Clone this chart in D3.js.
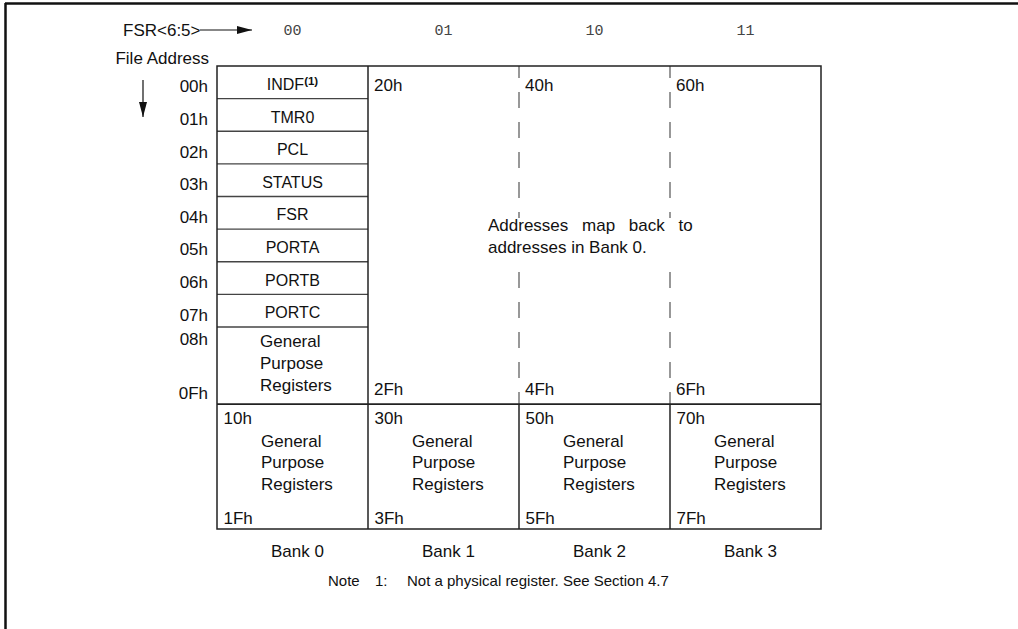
<!DOCTYPE html>
<html><head><meta charset="utf-8">
<script src="https://cdn.jsdelivr.net/npm/d3@7/dist/d3.min.js"></script>
<style>
html,body{margin:0;padding:0;background:#fff;}
svg{display:block;}
text{font-family:"Liberation Sans",Arial,sans-serif;fill:#111;}
</style></head>
<body>
<svg id="chart" width="1018" height="629"></svg>
<script>
// ---- data ----
const fsrBits = ["00", "01", "10", "11"];
const banks = ["Bank 0", "Bank 1", "Bank 2", "Bank 3"];
const sfrAddr = ["00h", "01h", "02h", "03h", "04h", "05h", "06h", "07h"];
const sfrNames = ["INDF", "TMR0", "PCL", "STATUS", "FSR", "PORTA", "PORTB", "PORTC"];
const gprAddr = ["08h", "0Fh"];
const upperStart = ["20h", "40h", "60h"];
const upperEnd = ["2Fh", "4Fh", "6Fh"];
const lowerStart = ["10h", "30h", "50h", "70h"];
const lowerEnd = ["1Fh", "3Fh", "5Fh", "7Fh"];
const gprLines = ["General", "Purpose", "Registers"];
const mirrorNote = ["Addresses map back to", "addresses in Bank 0."];
const footnote = ["Note", "1:", "Not a physical register. See Section 4.7"];
const headerLabels = ["FSR<6:5>", "File Address"];
// row units: 8 SFR rows, upper GPR block, lower block
const rowUnits = [8, 2.36, 3.83];

// ---- scales ----
const svg = d3.select("#chart");
const x = d3.scaleBand().domain(banks).range([217, 821]);
const bw = x.bandwidth();
const total = d3.sum(rowUnits);
const y = d3.scaleLinear().domain([0, total]).range([66, 529]);
const ySfrEnd = rowUnits[0];
const yMid = rowUnits[0] + rowUnits[1];
const FS = 17;

// ---- page frame ----
svg.append("line").attr("x1", 5).attr("x2", 1018).attr("y1", 3.5).attr("y2", 3.5)
  .attr("stroke", "#111").attr("stroke-width", 2.5);
svg.append("line").attr("x1", 5.5).attr("x2", 5.5).attr("y1", 3).attr("y2", 629)
  .attr("stroke", "#111").attr("stroke-width", 2.5);

// ---- header ----
const defs = svg.append("defs");
defs.append("marker").attr("id", "ah").attr("viewBox", "0 0 15 8").attr("refX", 15).attr("refY", 4)
  .attr("markerWidth", 15).attr("markerHeight", 8).attr("markerUnits", "userSpaceOnUse").attr("orient", "auto")
  .append("path").attr("d", "M0,0 L15,4 L0,8 Z").attr("fill", "#111");

svg.append("text").text(headerLabels[0]).attr("x", 123).attr("y", 30).attr("dy", "0.35em")
  .attr("font-size", FS);
svg.append("line").attr("x1", 200).attr("x2", 252).attr("y1", 30).attr("y2", 30)
  .attr("stroke", "#111").attr("stroke-width", 1.2).attr("marker-end", "url(#ah)");

svg.selectAll("text.bits").data(fsrBits).join("text").attr("class", "bits")
  .text(d => d)
  .attr("x", (d, i) => x(banks[i]) + bw / 2).attr("y", 30).attr("dy", "0.35em")
  .attr("text-anchor", "middle")
  .style("font-family", "'Liberation Mono','Courier New',monospace")
  .style("fill", "#444").attr("font-size", 15);

svg.append("text").text(headerLabels[1]).attr("x", 209).attr("y", 58).attr("dy", "0.35em")
  .attr("text-anchor", "end").attr("font-size", FS);
svg.append("line").attr("x1", 143).attr("x2", 143).attr("y1", 80).attr("y2", 117)
  .attr("stroke", "#111").attr("stroke-width", 1.2).attr("marker-end", "url(#ah)");

// ---- table lines ----
const g = svg.append("g");
const solid = (x1, y1, x2, y2, col = "#222", w = 1.5) =>
  g.append("line").attr("x1", x1).attr("y1", y1).attr("x2", x2).attr("y2", y2)
    .attr("stroke", col).attr("stroke-width", w);

// SFR row separators in Bank 0
g.selectAll("line.row").data(d3.range(1, ySfrEnd + 1)).join("line").attr("class", "row")
  .attr("x1", x(banks[0])).attr("x2", x(banks[0]) + bw)
  .attr("y1", d => y(d)).attr("y2", d => y(d))
  .attr("stroke", "#444").attr("stroke-width", 1.4);

// dashed separators between mirrored banks (upper section)
g.selectAll("line.dash").data(banks.slice(2)).join("line").attr("class", "dash")
  .attr("x1", d => x(d)).attr("x2", d => x(d))
  .attr("y1", y(0)).attr("y2", y(yMid))
  .attr("stroke", "#777").attr("stroke-width", 1.5)
  .attr("stroke-dasharray", "16 14").attr("stroke-dashoffset", 4);

// solid vertical separators
solid(x(banks[1]), y(0), x(banks[1]), y(total));
banks.slice(2).forEach(b => solid(x(b), y(yMid), x(b), y(total)));
// outer border
g.append("rect").attr("x", x(banks[0])).attr("y", y(0))
  .attr("width", x(banks[3]) + bw - x(banks[0])).attr("height", y(total) - y(0))
  .attr("fill", "none").attr("stroke", "#222").attr("stroke-width", 1.5);
// middle horizontal line
solid(x(banks[0]), y(yMid), x(banks[3]) + bw, y(yMid), "#222", 1.8);

// ---- address labels ----
svg.selectAll("text.addr").data(sfrAddr).join("text").attr("class", "addr")
  .text(d => d).attr("x", 208).attr("y", (d, i) => y(i + 0.5) + 4).attr("dy", "0.35em")
  .attr("text-anchor", "end").attr("font-size", FS);
svg.append("text").text(gprAddr[0]).attr("x", 208).attr("y", y(ySfrEnd) + 12).attr("dy", "0.35em")
  .attr("text-anchor", "end").attr("font-size", FS);
svg.append("text").text(gprAddr[1]).attr("x", 208).attr("y", y(yMid) - 11).attr("dy", "0.35em")
  .attr("text-anchor", "end").attr("font-size", FS);

// ---- SFR names ----
const names = svg.selectAll("text.sfr").data(sfrNames).join("text").attr("class", "sfr")
  .attr("x", x(banks[0]) + bw / 2).attr("y", (d, i) => y(i + 0.5) + 2).attr("dy", "0.35em")
  .attr("text-anchor", "middle").attr("font-size", 16);
names.append("tspan").text(d => d);
names.filter((d, i) => i === 0).append("tspan").text("(1)")
  .attr("font-size", 11.5).attr("font-weight", "bold").attr("dy", "-0.45em");

// GPR text, bank 0 upper
svg.selectAll("text.gpru").data(gprLines).join("text").attr("class", "gpru")
  .text(d => d).attr("x", x(banks[0]) + 43)
  .attr("y", (d, i) => y(ySfrEnd) + 14 + i * 22).attr("dy", "0.35em").attr("font-size", FS);

// mirrored bank upper labels
svg.selectAll("text.us").data(upperStart).join("text").attr("class", "us")
  .text(d => d).attr("x", (d, i) => x(banks[i + 1]) + 6).attr("y", y(0.5) + 3).attr("dy", "0.35em")
  .attr("font-size", FS);
svg.selectAll("text.ue").data(upperEnd).join("text").attr("class", "ue")
  .text(d => d).attr("x", (d, i) => x(banks[i + 1]) + 6).attr("y", y(yMid) - 15).attr("dy", "0.35em")
  .attr("font-size", FS);

// mirror note with white backing
svg.append("rect").attr("x", x(banks[2]) - 34).attr("y", 218).attr("width", 212).attr("height", 42)
  .attr("fill", "#fff");
svg.selectAll("text.mirror").data(mirrorNote).join("text").attr("class", "mirror")
  .text(d => d).attr("x", x(banks[2]) - 31).attr("y", (d, i) => 225 + i * 22).attr("dy", "0.35em")
  .attr("font-size", FS).style("word-spacing", (d, i) => i === 0 ? "9px" : "0px");

// lower section
svg.selectAll("text.ls").data(lowerStart).join("text").attr("class", "ls")
  .text(d => d).attr("x", (d, i) => x(banks[i]) + 6.5).attr("y", y(yMid) + 14).attr("dy", "0.35em")
  .attr("font-size", FS);
svg.selectAll("text.le").data(lowerEnd).join("text").attr("class", "le")
  .text(d => d).attr("x", (d, i) => x(banks[i]) + 6.5).attr("y", y(total) - 11).attr("dy", "0.35em")
  .attr("font-size", FS);
banks.forEach((b, bi) => {
  svg.selectAll("text.gl" + bi).data(gprLines).join("text").attr("class", "gl" + bi)
    .text(d => d).attr("x", x(b) + 44)
    .attr("y", (d, i) => y(yMid) + 37 + i * 21.5).attr("dy", "0.35em").attr("font-size", FS);
});

// bank labels
svg.selectAll("text.bank").data(banks).join("text").attr("class", "bank")
  .text(d => d).attr("x", d => x(d) + bw / 2 + 5).attr("y", y(total) + 22).attr("dy", "0.35em")
  .attr("text-anchor", "middle").attr("font-size", FS);

// footnote
const fx = [328, 375, 407];
svg.selectAll("text.foot").data(footnote).join("text").attr("class", "foot")
  .text(d => d).attr("x", (d, i) => fx[i]).attr("y", 581).attr("dy", "0.35em")
  .attr("font-size", 15);
</script>
</body></html>
